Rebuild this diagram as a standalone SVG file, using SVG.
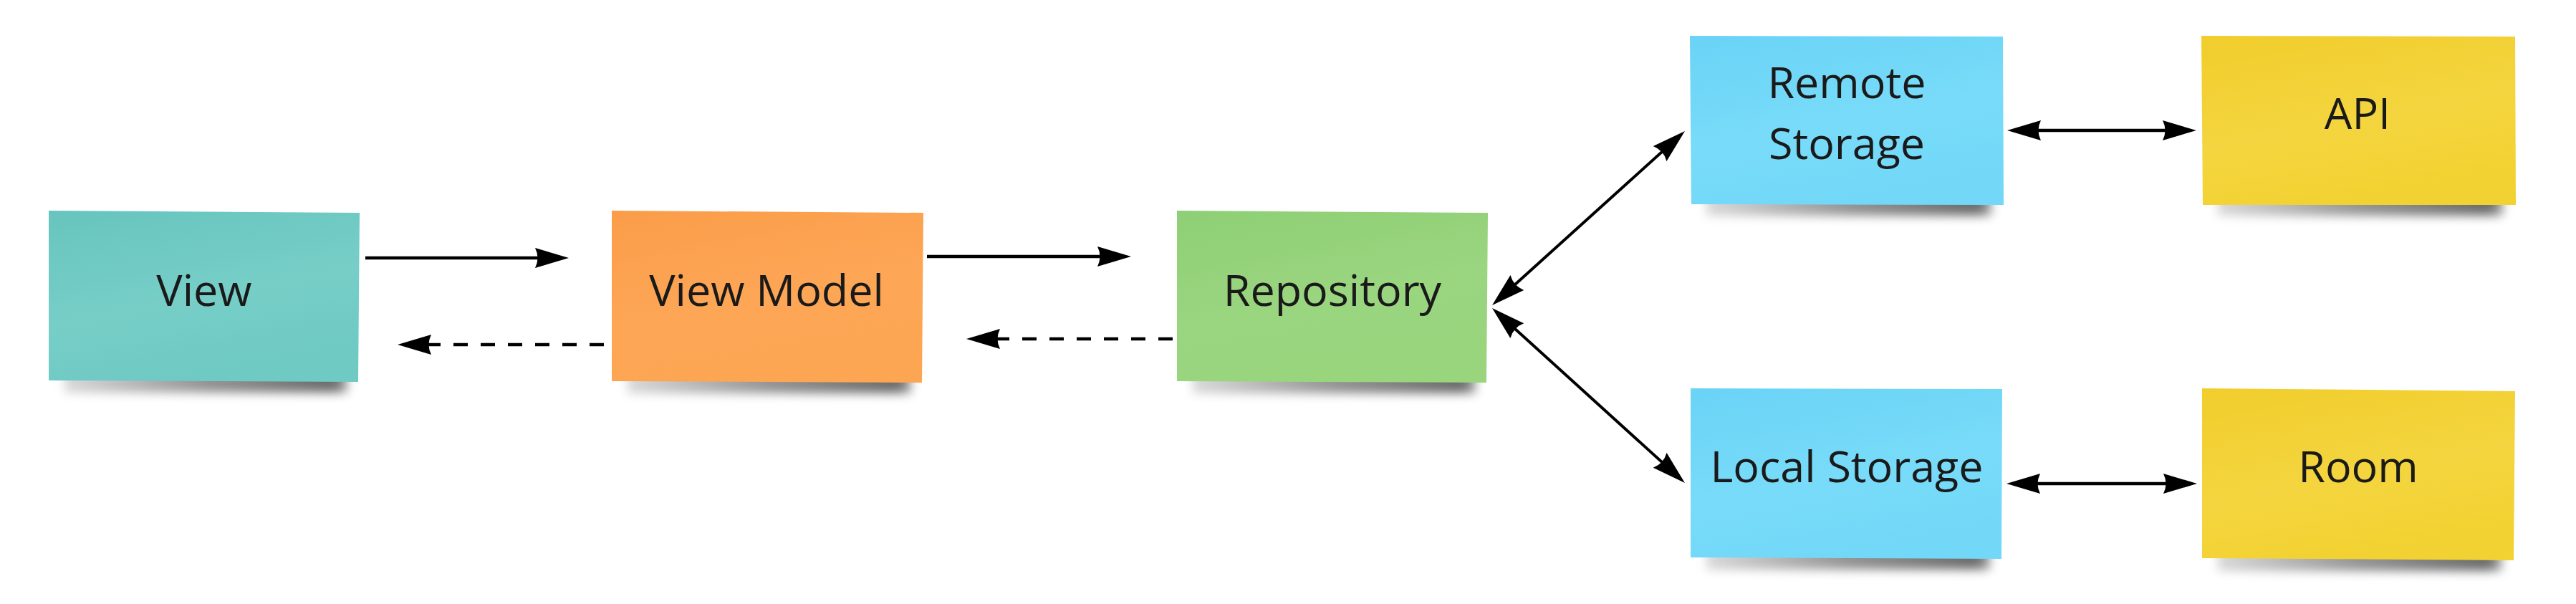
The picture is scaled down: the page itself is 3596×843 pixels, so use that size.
<svg xmlns="http://www.w3.org/2000/svg" width="3596" height="843" viewBox="0 0 3596 843">
  <style>
    .lbl { font-family: "Open Sans", "Noto Sans", "Liberation Sans", sans-serif; font-size: 61px; fill: #1a1a1a; text-anchor: middle; }
    .conn { fill: none; stroke: #000; stroke-width: 4.5; }
    .dash { stroke-dasharray: 20 18; }
    .thin { stroke-width: 4; }
    .shadow { fill: url(#shadowGrad); filter: url(#blur); }
  </style>
  <defs>
    <filter id="blur" x="-10%" y="-100%" width="120%" height="300%">
      <feGaussianBlur stdDeviation="7"/>
    </filter>
    <linearGradient id="shadowGrad" x1="0" y1="0" x2="1" y2="0">
      <stop offset="0" stop-color="#000" stop-opacity="0.15"/>
      <stop offset="0.5" stop-color="#000" stop-opacity="0.42"/>
      <stop offset="0.95" stop-color="#000" stop-opacity="0.58"/>
      <stop offset="1" stop-color="#000" stop-opacity="0.35"/>
    </linearGradient>
    <linearGradient id="gTeal" x1="0" y1="0" x2="0.35" y2="1">
      <stop offset="0" stop-color="#67c5be"/>
      <stop offset="0.6" stop-color="#76cec7"/>
      <stop offset="1" stop-color="#6fcac3"/>
    </linearGradient>
    <linearGradient id="gOrange" x1="0" y1="0" x2="0.35" y2="1">
      <stop offset="0" stop-color="#fa9d49"/>
      <stop offset="0.6" stop-color="#fda656"/>
      <stop offset="1" stop-color="#fca552"/>
    </linearGradient>
    <linearGradient id="gGreen" x1="0" y1="0" x2="0.35" y2="1">
      <stop offset="0" stop-color="#8ecf75"/>
      <stop offset="0.6" stop-color="#9ad57f"/>
      <stop offset="1" stop-color="#98d57d"/>
    </linearGradient>
    <linearGradient id="gBlue" x1="0" y1="0" x2="0.35" y2="1">
      <stop offset="0" stop-color="#6ad3f6"/>
      <stop offset="0.6" stop-color="#78dbf9"/>
      <stop offset="1" stop-color="#73d8f8"/>
    </linearGradient>
    <linearGradient id="gYellow" x1="0" y1="0" x2="0.35" y2="1">
      <stop offset="0" stop-color="#f1cd2c"/>
      <stop offset="0.6" stop-color="#f4d53f"/>
      <stop offset="1" stop-color="#f2d232"/>
    </linearGradient>
    <marker id="arrow" markerUnits="userSpaceOnUse" viewBox="-45 -20 60 40" refX="0" refY="0" markerWidth="60" markerHeight="40" orient="auto-start-reverse">
      <path d="M10 0 L-37 -14 Q-30 0 -37 14 Z" fill="#000"/>
    </marker>
  </defs>

  <g id="node-view">
    <rect class="shadow" x="90" y="518" width="395" height="30"/>
    <polygon points="68,294 502,297 500,533 68,531" fill="url(#gTeal)"/>
    <text class="lbl" x="285" y="427">View</text>
  </g>

  <g id="node-viewmodel">
    <rect class="shadow" x="876" y="519" width="396" height="30"/>
    <polygon points="854,294 1289,297 1287,534 854,532" fill="url(#gOrange)"/>
    <text class="lbl" x="1070" y="427">View Model</text>
  </g>

  <g id="node-repository">
    <rect class="shadow" x="1665" y="519" width="395" height="30"/>
    <polygon points="1643,294 2077,297 2075,534 1643,532" fill="url(#gGreen)"/>
    <text class="lbl" x="1860" y="427">Repository</text>
  </g>

  <g id="node-remote">
    <rect class="shadow" x="2382" y="271" width="398" height="30"/>
    <polygon points="2359,50 2796,51 2797,286 2361,285" fill="url(#gBlue)"/>
    <text class="lbl" x="2578" y="137">Remote</text>
    <text class="lbl" x="2578" y="222">Storage</text>
  </g>

  <g id="node-api">
    <rect class="shadow" x="3096" y="271" width="398" height="30"/>
    <polygon points="3073,50 3511,51 3512,286 3075,286" fill="url(#gYellow)"/>
    <text class="lbl" x="3291" y="180">API</text>
  </g>

  <g id="node-local">
    <rect class="shadow" x="2382" y="765" width="396" height="30"/>
    <polygon points="2360,542 2795,543 2794,780 2360,778" fill="url(#gBlue)"/>
    <text class="lbl" x="2578" y="673">Local Storage</text>
  </g>

  <g id="node-room">
    <rect class="shadow" x="3096" y="767" width="396" height="30"/>
    <polygon points="3074,542 3511,546 3509,782 3074,779" fill="url(#gYellow)"/>
    <text class="lbl" x="3292" y="673">Room</text>
  </g>

  <g id="connectors">
    <path class="conn" d="M510 360 L784 360" marker-end="url(#arrow)"/>
    <path class="conn dash" d="M843 481 L565 481" marker-end="url(#arrow)"/>
    <path class="conn" d="M1294 358 L1569 358" marker-end="url(#arrow)"/>
    <path class="conn dash" d="M1637 473 L1359 473" marker-end="url(#arrow)"/>
    <path class="conn thin" d="M2090.4 419.3 L2344.6 189.7" marker-start="url(#arrow)" marker-end="url(#arrow)"/>
    <path class="conn thin" d="M2090.4 436.7 L2344.6 667.3" marker-start="url(#arrow)" marker-end="url(#arrow)"/>
    <path class="conn" d="M2812 182 L3056 182" marker-start="url(#arrow)" marker-end="url(#arrow)"/>
    <path class="conn" d="M2811 675 L3057 675" marker-start="url(#arrow)" marker-end="url(#arrow)"/>
  </g>
</svg>
